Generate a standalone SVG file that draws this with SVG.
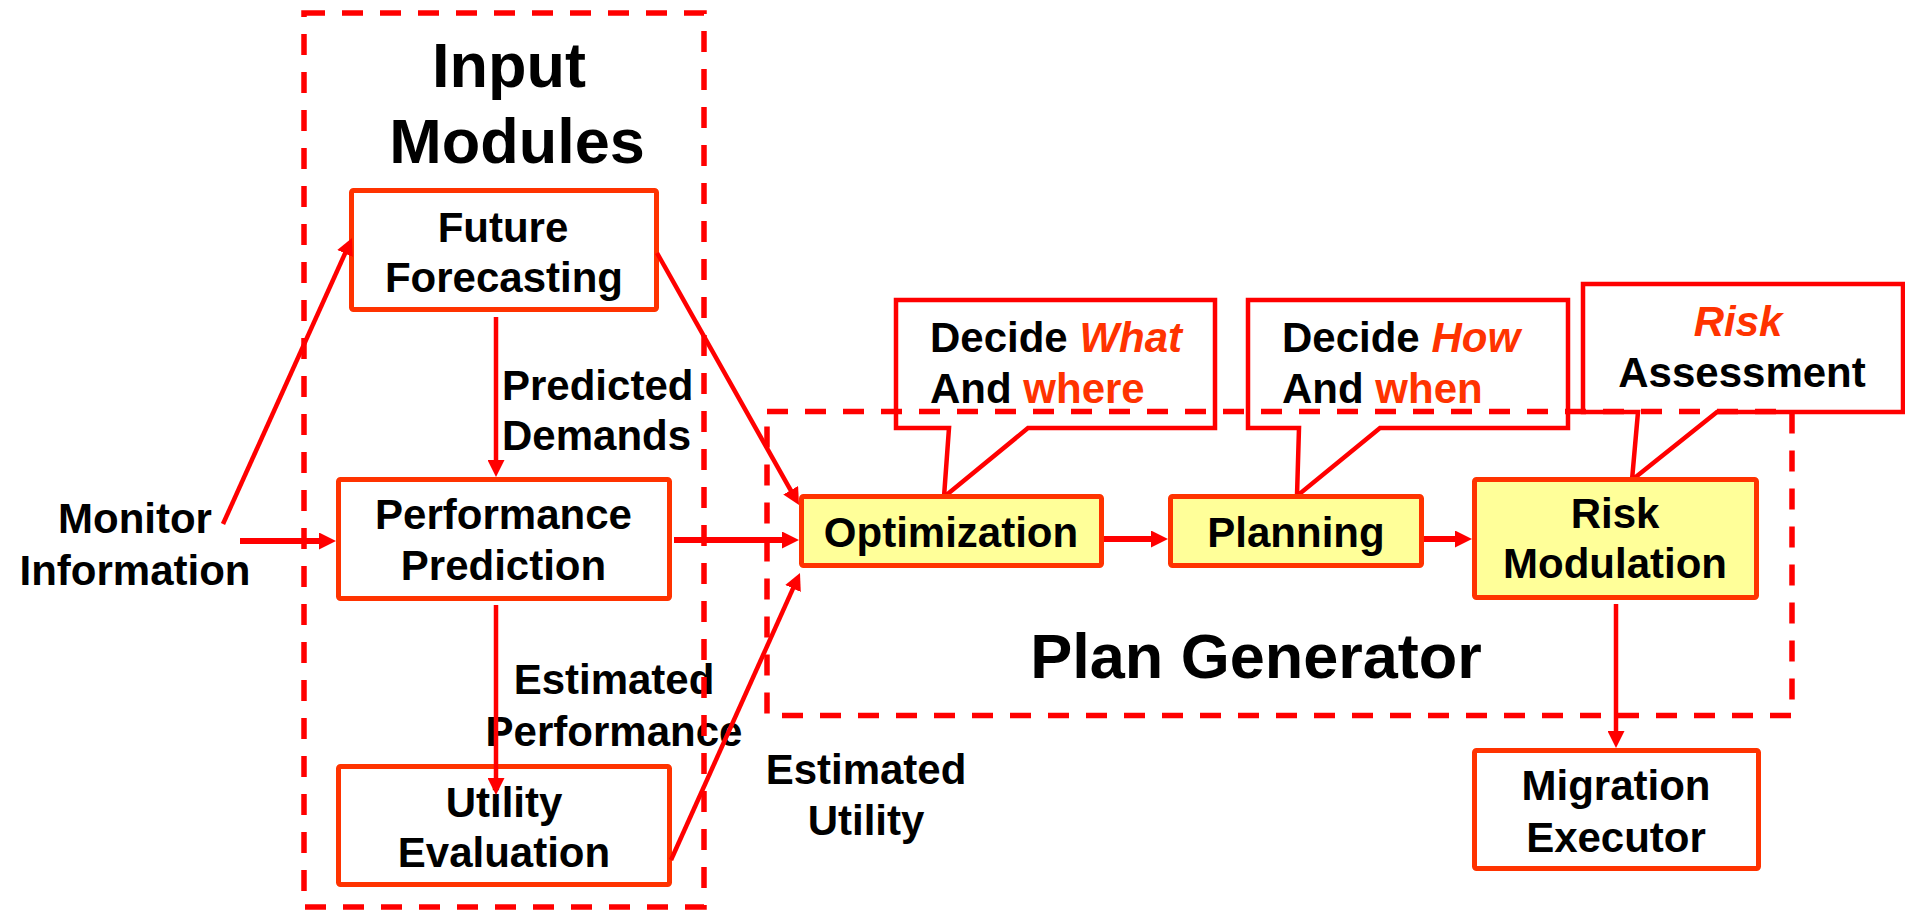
<svg xmlns="http://www.w3.org/2000/svg" width="1905" height="911" viewBox="0 0 1905 911">
<style>
text{font-family:"Liberation Sans",Arial,sans-serif;font-weight:bold;font-size:42px;fill:#000}
.big{font-size:63px}
.c{text-anchor:middle}
.em{fill:#FF3300}
.it{font-style:italic}
.box{fill:#fff;stroke:#FF3300;stroke-width:5}
.yel{fill:#FFFF99;stroke:#FF3300;stroke-width:5}
.call{fill:#fff;stroke:#FF0000;stroke-width:4.5;stroke-linejoin:miter}
.dash{fill:none;stroke:#FF0000;stroke-width:5.5;stroke-dasharray:21 17}
.con{stroke:#FF0000;stroke-width:4.5;fill:none;marker-end:url(#ah)}
.thick{stroke-width:6}
</style>
<defs>
<marker id="ah" markerUnits="userSpaceOnUse" markerWidth="17" markerHeight="17" refX="8" refY="8.5" orient="auto">
<path d="M0,0 L17,8.5 L0,17 z" fill="#FF0000"/>
</marker>
</defs>
<rect width="1905" height="911" fill="#fff"/>

<g id="callout-what">
<polygon class="call" points="896,300 1215,300 1215,428 1028,428 944,497 949,428 896,428"/>
<text x="930" y="352">Decide <tspan class="em it">What</tspan></text>
<text x="930" y="403">And <tspan class="em">where</tspan></text>
</g>
<g id="callout-how">
<polygon class="call" points="1248,300 1568,300 1568,428 1380,428 1297,496 1299,428 1248,428"/>
<text x="1282" y="352">Decide <tspan class="em it">How</tspan></text>
<text x="1282" y="403">And <tspan class="em">when</tspan></text>
</g>
<g id="callout-risk">
<polygon class="call" points="1583,284 1903,284 1903,412 1717,412 1632,480 1638,412 1583,412"/>
<text class="c em it" x="1738" y="336">Risk</text>
<text class="c" x="1742" y="387">Assessment</text>
</g>

<g id="title-input">
<text class="big c" x="509" y="87">Input</text>
<text class="big c" x="517" y="163">Modules</text>
</g>
<g id="title-plan">
<text class="big c" x="1256" y="678">Plan Generator</text>
</g>

<g id="monitor">
<text class="c" x="135" y="533">Monitor</text>
<text class="c" x="135" y="585">Information</text>
</g>
<g id="future">
<rect class="box" x="351.5" y="190.5" width="305" height="119" rx="2"/>
<text class="c" x="503" y="242">Future</text>
<text class="c" x="504" y="292">Forecasting</text>
</g>
<g id="perf">
<rect class="box" x="338.5" y="479.5" width="331" height="119" rx="2"/>
<text class="c" x="503.5" y="529">Performance</text>
<text class="c" x="503.5" y="580">Prediction</text>
</g>
<g id="utility">
<rect class="box" x="338.5" y="766.5" width="331" height="118" rx="2"/>
<text class="c" x="504" y="817">Utility</text>
<text class="c" x="504" y="867">Evaluation</text>
</g>
<g id="opt">
<rect class="yel" x="801.5" y="496.5" width="300" height="69" rx="2"/>
<text class="c" x="951" y="547">Optimization</text>
</g>
<g id="planning">
<rect class="yel" x="1170.5" y="496.5" width="251" height="69" rx="2"/>
<text class="c" x="1296" y="547">Planning</text>
</g>
<g id="risk">
<rect class="yel" x="1474.5" y="479.5" width="282" height="118" rx="2"/>
<text class="c" x="1615" y="528">Risk</text>
<text class="c" x="1615" y="578">Modulation</text>
</g>
<g id="migration">
<rect class="box" x="1474.5" y="750.5" width="284" height="118" rx="2"/>
<text class="c" x="1616" y="800">Migration</text>
<text class="c" x="1616" y="852">Executor</text>
</g>

<g id="edge-labels">
<text x="502" y="400">Predicted</text>
<text x="502" y="450">Demands</text>
<text class="c" x="614" y="694">Estimated</text>
<text class="c" x="614" y="746">Performance</text>
<text class="c" x="866" y="784">Estimated</text>
<text class="c" x="866" y="835">Utility</text>
</g>

<g id="connectors">
<line class="con" x1="223" y1="524" x2="348.3" y2="246.2"/>
<line class="con thick" x1="240" y1="541" x2="327" y2="541"/>
<line class="con" x1="496" y1="317" x2="496" y2="468"/>
<line class="con" x1="496" y1="605" x2="496" y2="786"/>
<line class="con" x1="657" y1="253" x2="794.6" y2="497.2"/>
<line class="con thick" x1="674" y1="540" x2="790" y2="540"/>
<line class="con" x1="671" y1="860" x2="796.3" y2="581.2"/>
<line class="con thick" x1="1104" y1="539" x2="1159" y2="539"/>
<line class="con thick" x1="1424" y1="539" x2="1463" y2="539"/>
<line class="con" x1="1616" y1="604" x2="1616" y2="739"/>
</g>

<g id="groups">
<rect class="dash" x="304" y="13" width="400" height="894"/>
<rect class="dash" x="767" y="411.5" width="1025" height="304"/>
</g>
</svg>
